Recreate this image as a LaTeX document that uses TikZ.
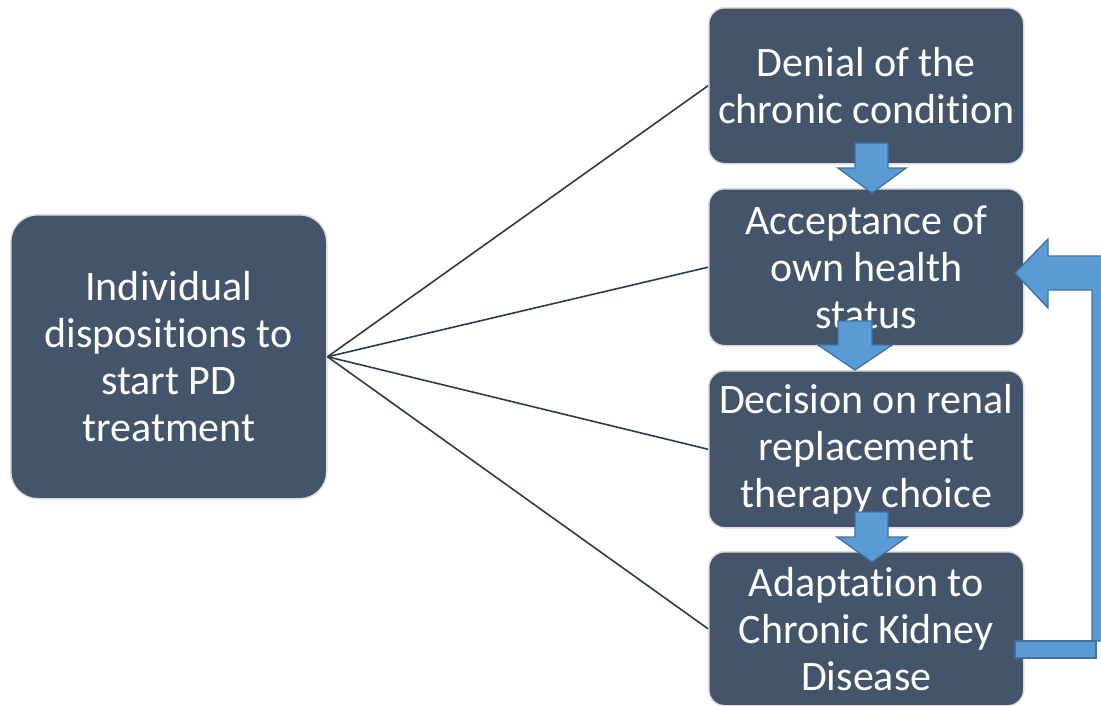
\documentclass[tikz,border=0pt]{standalone}
\usepackage{fontspec}
\setmainfont{Carlito}[Ligatures=NoCommon]
\definecolor{boxfill}{HTML}{44546A}
\definecolor{boxline}{HTML}{DEDEDE}
\definecolor{arrfill}{HTML}{5B9BD5}
\definecolor{arrline}{HTML}{41719C}
\definecolor{conn}{HTML}{2E3A4E}
\begin{document}
\begin{tikzpicture}[x=1pt,y=-1pt,
  box/.style={draw=boxline, line width=1.5pt, fill=boxfill, text=white,
    align=center, inner sep=0pt, anchor=north west,
    font=\fontsize{42}{47}\selectfont},
  rbox/.style={box, minimum width=315pt, rounded corners=16pt},
  conn/.style={draw=conn, line width=1.6pt},
  blockarrow/.style={fill=arrfill, draw=arrline, line width=1.3pt, line join=miter}]
\useasboundingbox (0,0) rectangle (1101,705);
\clip (0,0) rectangle (1101,705);

\node[box, minimum width=316pt, minimum height=284pt, rounded corners=27pt] (L) at (10,214)
  {Individual\\dispositions to\\start PD\\treatment};
\node[rbox, minimum height=156pt] (A) at (708,7) {Denial of the\\chronic condition};
\node[rbox, minimum height=157pt] (B) at (708,188) {Acceptance of\\own health\\status};
\node[rbox, minimum height=157pt] (C) at (708,370) {Decision on renal\\replacement\\therapy choice};
\node[rbox, minimum height=154pt] (D) at (708,551) {Adaptation to\\Chronic Kidney\\Disease};

\draw[conn] (L.east) -- (A.west);
\draw[conn] (L.east) -- (B.west);
\draw[conn] (L.east) -- (C.west);
\draw[conn] (L.east) -- (D.west);

% block arrows between boxes
\draw[blockarrow] (855,143) -- (888,143) -- (888,168) -- (906,168) -- (872,193)
  -- (838,168) -- (855,168) -- cycle;
\draw[blockarrow] (838,321) -- (872,321) -- (872,345) -- (892,345) -- (855,370)
  -- (818,345) -- (838,345) -- cycle;
\draw[blockarrow] (855,512) -- (888,512) -- (888,537) -- (907,537) -- (872,562)
  -- (837,537) -- (855,537) -- cycle;

% feedback arrow
\draw[blockarrow] (1015,273) -- (1048,239) -- (1048,256) -- (1120,256) -- (1120,641)
  -- (1092,641) -- (1092,290) -- (1048,290) -- (1048,308) -- cycle;
\draw[blockarrow] (1015,641) rectangle (1096,658);
\end{tikzpicture}
\end{document}
